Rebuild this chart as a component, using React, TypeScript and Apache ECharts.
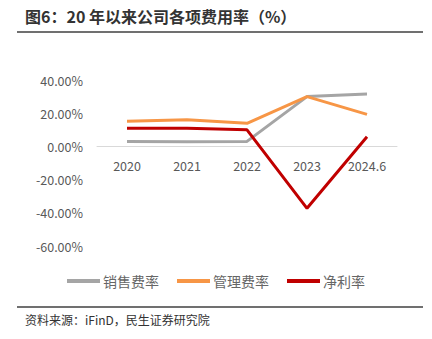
import React, { useEffect, useRef } from "react";
import * as echarts from "echarts";

const categories = ["2020", "2021", "2022", "2023", "2024.6"];
const salesRate = [3.0, 2.8, 3.0, 30.0, 31.5];
const mgmtRate = [15.2, 16.0, 13.9, 30.0, 19.3];
const netRate = [10.9, 11.0, 10.0, -37.3, 5.8];
const seriesNames = ["销售费率", "管理费率", "净利率"];
const colors = ["#A5A5A5", "#F79646", "#C00000"];

const FONT = "'Noto Sans CJK SC', 'Noto Sans', sans-serif";

export default function App() {
  const ref = useRef<HTMLDivElement>(null);
  useEffect(() => {
    if (!ref.current) return;
    const chart = echarts.init(ref.current, null, { renderer: "svg" });
    const data = [salesRate, mgmtRate, netRate];
    chart.setOption({
      animation: false,
      backgroundColor: "#ffffff",
      grid: { left: 97, right: 35, top: 80, bottom: 93, containLabel: false },
      xAxis: {
        type: "category",
        data: categories,
        boundaryGap: true,
        offset: -100,
        axisLine: { onZero: false, lineStyle: { color: "#D9D9D9", width: 1 } },
        axisTick: { show: false },
        axisLabel: { color: "#595959", fontSize: 12.5, fontFamily: FONT, margin: 13 },
      },
      yAxis: {
        type: "value",
        min: -60,
        max: 40,
        interval: 20,
        axisLine: { show: false },
        axisTick: { show: false },
        splitLine: { show: false },
        axisLabel: {
          color: "#595959",
          fontSize: 12.5,
          fontFamily: FONT,
          margin: 14,
          formatter: (v: number) => v.toFixed(2) + "%",
        },
      },
      legend: {
        bottom: 46,
        left: "center",
        itemWidth: 33,
        itemHeight: 4,
        itemGap: 18,
        icon: "rect",
        textStyle: { color: "#666666", fontSize: 14, fontFamily: FONT, padding: [0, 0, 0, -2] },
        data: seriesNames,
      },
      series: seriesNames.map((name, i) => ({
        name,
        type: "line",
        data: data[i],
        symbol: "none",
        lineStyle: { color: colors[i], width: 3 },
        itemStyle: { color: colors[i] },
      })),
      graphic: [
        {
          type: "text",
          left: 25,
          top: 8,
          style: {
            text: "图6：20 年以来公司各项费用率（%）",
            fill: "#333333",
            font: `bold 16px ${FONT}`,
          },
        },
        {
          type: "line",
          shape: { x1: 17, y1: 32, x2: 423, y2: 32 },
          style: { stroke: "#404040", lineWidth: 1.5 },
        },
        {
          type: "line",
          shape: { x1: 17, y1: 307, x2: 423, y2: 307 },
          style: { stroke: "#404040", lineWidth: 1.5 },
        },
        {
          type: "text",
          left: 25,
          top: 313,
          style: {
            text: "资料来源：iFinD，民生证券研究院",
            fill: "#333333",
            font: `12px ${FONT}`,
          },
        },
      ],
    });
    return () => chart.dispose();
  }, []);
  return (
    <div
      ref={ref}
      style={{ position: "fixed", left: 0, top: 0, width: 432, height: 339, background: "#fff" }}
    />
  );
}
